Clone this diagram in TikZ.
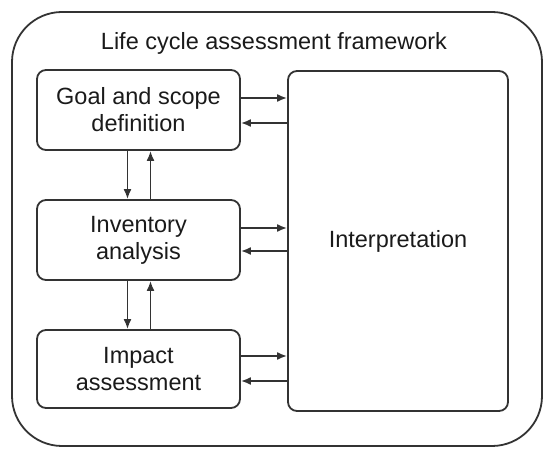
\documentclass[tikz,border=0pt]{standalone}
\usepackage{fontspec}
\setmainfont{Liberation Sans}
\usetikzlibrary{arrows.meta}
\definecolor{ln}{HTML}{333333}
\definecolor{tx}{HTML}{1A1A1A}
\begin{document}
\begin{tikzpicture}[x=1pt,y=-1pt,
  every node/.style={font=\fontsize{23.5}{27}\selectfont, text=tx},
  stagebox/.style={draw=ln, line width=1.8pt, rounded corners=9pt, align=center,
    inner sep=0pt, minimum width=203pt},
  arr/.style={draw=ln, line width=1.8pt, -{Latex[length=10pt,width=8pt]}}]
\useasboundingbox (0,0) rectangle (550,457);
\node[draw=ln, line width=1.8pt, rounded corners=50pt, minimum width=530pt, minimum height=434pt, inner sep=0pt] (frame) at (277,229) {};
\node (title) at (274,43) {Life cycle assessment framework};
\node[stagebox, minimum height=80pt] (goal) at (138.5,110) {Goal and scope\\definition};
\node[stagebox, minimum height=80pt] (inv) at (138.5,240) {Inventory\\analysis};
\node[stagebox, minimum height=78pt] (imp) at (138.5,369) {Impact\\assessment};
\node[stagebox, minimum width=220pt, minimum height=340pt] (interp) at (398,241) {Interpretation};
% horizontal
\draw[arr] ([yshift=12pt]goal.east) -- ([yshift=12pt]goal.east -| interp.west);
\draw[arr] ([yshift=-13pt]goal.east -| interp.west) -- ([yshift=-13pt]goal.east);
\draw[arr] ([yshift=12pt]inv.east) -- ([yshift=12pt]inv.east -| interp.west);
\draw[arr] ([yshift=-11pt]inv.east -| interp.west) -- ([yshift=-11pt]inv.east);
\draw[arr] ([yshift=13pt]imp.east) -- ([yshift=13pt]imp.east -| interp.west);
\draw[arr] ([yshift=-12pt]imp.east -| interp.west) -- ([yshift=-12pt]imp.east);
% vertical
\draw[arr] ([xshift=-11pt]goal.south) -- ([xshift=-11pt]inv.north);
\draw[arr] ([xshift=12pt]inv.north) -- ([xshift=12pt]goal.south);
\draw[arr] ([xshift=-11pt]inv.south) -- ([xshift=-11pt]imp.north);
\draw[arr] ([xshift=12pt]imp.north) -- ([xshift=12pt]inv.south);
\end{tikzpicture}
\end{document}
